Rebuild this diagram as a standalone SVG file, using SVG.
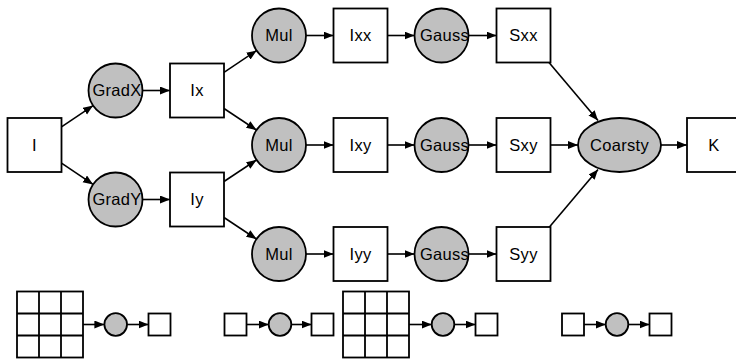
<svg xmlns="http://www.w3.org/2000/svg" width="736" height="359" viewBox="0 0 736 359">
  <style>
    .box { fill: #ffffff; stroke: #000000; stroke-width: 1.8; }
    .op { fill: #c0c0c0; stroke: #000000; stroke-width: 1.8; }
    .lbl { font-family: "Liberation Sans", Arial, sans-serif; font-size: 16.5px; letter-spacing: 0.3px; fill: #000000; text-anchor: middle; }
    .edge { stroke: #000000; stroke-width: 1.6; fill: none; marker-end: url(#arrow); }
    .grid { stroke: #000000; stroke-width: 1.8; fill: none; }
  </style>
  <defs>
    <marker id="arrow" markerUnits="userSpaceOnUse" markerWidth="11" markerHeight="9" refX="10" refY="4" orient="auto">
      <path d="M0,0 L10,4 L0,8 z" fill="#000000"/>
    </marker>
  </defs>
  <rect width="736" height="359" fill="#ffffff"/>

  <!-- connectors -->
  <g id="connectors">
    <line class="edge" x1="61.5" y1="126.8" x2="93.1" y2="105.6"/>
    <line class="edge" x1="61.5" y1="163.2" x2="93.1" y2="184.4"/>
    <line class="edge" x1="142.5" y1="90.5" x2="170" y2="90.5"/>
    <line class="edge" x1="142.5" y1="199.5" x2="170" y2="199.5"/>
    <line class="edge" x1="224" y1="72.4" x2="256.6" y2="50.5"/>
    <line class="edge" x1="224" y1="108.5" x2="256.5" y2="130"/>
    <line class="edge" x1="224" y1="181.5" x2="256.5" y2="160"/>
    <line class="edge" x1="224" y1="217.5" x2="256.5" y2="239"/>
    <line class="edge" x1="306" y1="35.5" x2="333.5" y2="35.5"/>
    <line class="edge" x1="306" y1="145" x2="333.5" y2="145"/>
    <line class="edge" x1="306" y1="254" x2="333.5" y2="254"/>
    <line class="edge" x1="387.5" y1="35.5" x2="414.5" y2="35.5"/>
    <line class="edge" x1="387.5" y1="145" x2="414.5" y2="145"/>
    <line class="edge" x1="387.5" y1="254" x2="414.5" y2="254"/>
    <line class="edge" x1="468.5" y1="35.5" x2="496.5" y2="35.5"/>
    <line class="edge" x1="468.5" y1="145" x2="496.5" y2="145"/>
    <line class="edge" x1="468.5" y1="254" x2="496.5" y2="254"/>
    <line class="edge" x1="549" y1="62.5" x2="598" y2="120.5"/>
    <line class="edge" x1="550.5" y1="145" x2="578" y2="145"/>
    <line class="edge" x1="549" y1="227.5" x2="598" y2="169.5"/>
    <line class="edge" x1="661" y1="145" x2="687" y2="145"/>
    <!-- legend arrows -->
    <line class="edge" x1="83" y1="324.5" x2="104.4" y2="324.5"/>
    <line class="edge" x1="127" y1="324.5" x2="148.5" y2="324.5"/>
    <line class="edge" x1="246.5" y1="324.5" x2="268.7" y2="324.5"/>
    <line class="edge" x1="291.3" y1="324.5" x2="311.5" y2="324.5"/>
    <line class="edge" x1="409" y1="324.5" x2="431.7" y2="324.5"/>
    <line class="edge" x1="454.3" y1="324.5" x2="475.5" y2="324.5"/>
    <line class="edge" x1="584" y1="324.5" x2="605.7" y2="324.5"/>
    <line class="edge" x1="628.3" y1="324.5" x2="649.5" y2="324.5"/>
  </g>

  <!-- nodes -->
  <g id="I"><rect class="box" x="7.5" y="118" width="54" height="54"/><text class="lbl" x="34.5" y="150.8">I</text></g>
  <g id="GradX"><circle class="op" cx="115.5" cy="90.5" r="27"/><text class="lbl" x="117" y="96.3">GradX</text></g>
  <g id="GradY"><circle class="op" cx="115.5" cy="199.5" r="27"/><text class="lbl" x="117" y="205.3">GradY</text></g>
  <g id="Ix"><rect class="box" x="170" y="63.5" width="54" height="54"/><text class="lbl" x="197" y="96.3">Ix</text></g>
  <g id="Iy"><rect class="box" x="170" y="172.5" width="54" height="54"/><text class="lbl" x="197" y="205.3">Iy</text></g>
  <g id="Mul1"><circle class="op" cx="279" cy="35.5" r="27"/><text class="lbl" x="279" y="41.3">Mul</text></g>
  <g id="Mul2"><circle class="op" cx="279" cy="145" r="27"/><text class="lbl" x="279" y="150.8">Mul</text></g>
  <g id="Mul3"><circle class="op" cx="279" cy="254" r="27"/><text class="lbl" x="279" y="259.8">Mul</text></g>
  <g id="Ixx"><rect class="box" x="333.5" y="8.5" width="54" height="54"/><text class="lbl" x="360.5" y="41.3">Ixx</text></g>
  <g id="Ixy"><rect class="box" x="333.5" y="118" width="54" height="54"/><text class="lbl" x="360.5" y="150.8">Ixy</text></g>
  <g id="Iyy"><rect class="box" x="333.5" y="227" width="54" height="54"/><text class="lbl" x="360.5" y="259.8">Iyy</text></g>
  <g id="Gauss1"><circle class="op" cx="441.5" cy="35.5" r="27"/><text class="lbl" x="444.5" y="41.3">Gauss</text></g>
  <g id="Gauss2"><circle class="op" cx="441.5" cy="145" r="27"/><text class="lbl" x="444.5" y="150.8">Gauss</text></g>
  <g id="Gauss3"><circle class="op" cx="441.5" cy="254" r="27"/><text class="lbl" x="444.5" y="259.8">Gauss</text></g>
  <g id="Sxx"><rect class="box" x="496.5" y="8.5" width="54" height="54"/><text class="lbl" x="523.5" y="41.3">Sxx</text></g>
  <g id="Sxy"><rect class="box" x="496.5" y="118" width="54" height="54"/><text class="lbl" x="523.5" y="150.8">Sxy</text></g>
  <g id="Syy"><rect class="box" x="496.5" y="227" width="54" height="54"/><text class="lbl" x="523.5" y="259.8">Syy</text></g>
  <g id="Coarsty"><ellipse class="op" cx="619.5" cy="145" rx="41.5" ry="27"/><text class="lbl" x="619.5" y="150.8">Coarsty</text></g>
  <g id="K"><rect class="box" x="687" y="118" width="54" height="54"/><text class="lbl" x="714" y="150.8">K</text></g>

  <!-- legend icons -->
  <g id="legend-grid-1">
    <rect class="box" x="17" y="291.5" width="66" height="66"/>
    <path class="grid" d="M39,291.5 V357.5 M61,291.5 V357.5 M17,313.5 H83 M17,335.5 H83"/>
    <circle class="op" cx="115.7" cy="324.5" r="11.3"/>
    <rect class="box" x="148.5" y="313.5" width="22" height="22"/>
  </g>
  <g id="legend-point-1">
    <rect class="box" x="224.5" y="313.5" width="22" height="22"/>
    <circle class="op" cx="280" cy="324.5" r="11.3"/>
    <rect class="box" x="311.5" y="313.5" width="22" height="22"/>
  </g>
  <g id="legend-grid-2">
    <rect class="box" x="343" y="291.5" width="66" height="66"/>
    <path class="grid" d="M365,291.5 V357.5 M387,291.5 V357.5 M343,313.5 H409 M343,335.5 H409"/>
    <circle class="op" cx="443" cy="324.5" r="11.3"/>
    <rect class="box" x="475.5" y="313.5" width="22" height="22"/>
  </g>
  <g id="legend-point-2">
    <rect class="box" x="562" y="313.5" width="22" height="22"/>
    <circle class="op" cx="617" cy="324.5" r="11.3"/>
    <rect class="box" x="649.5" y="313.5" width="22" height="22"/>
  </g>
</svg>
